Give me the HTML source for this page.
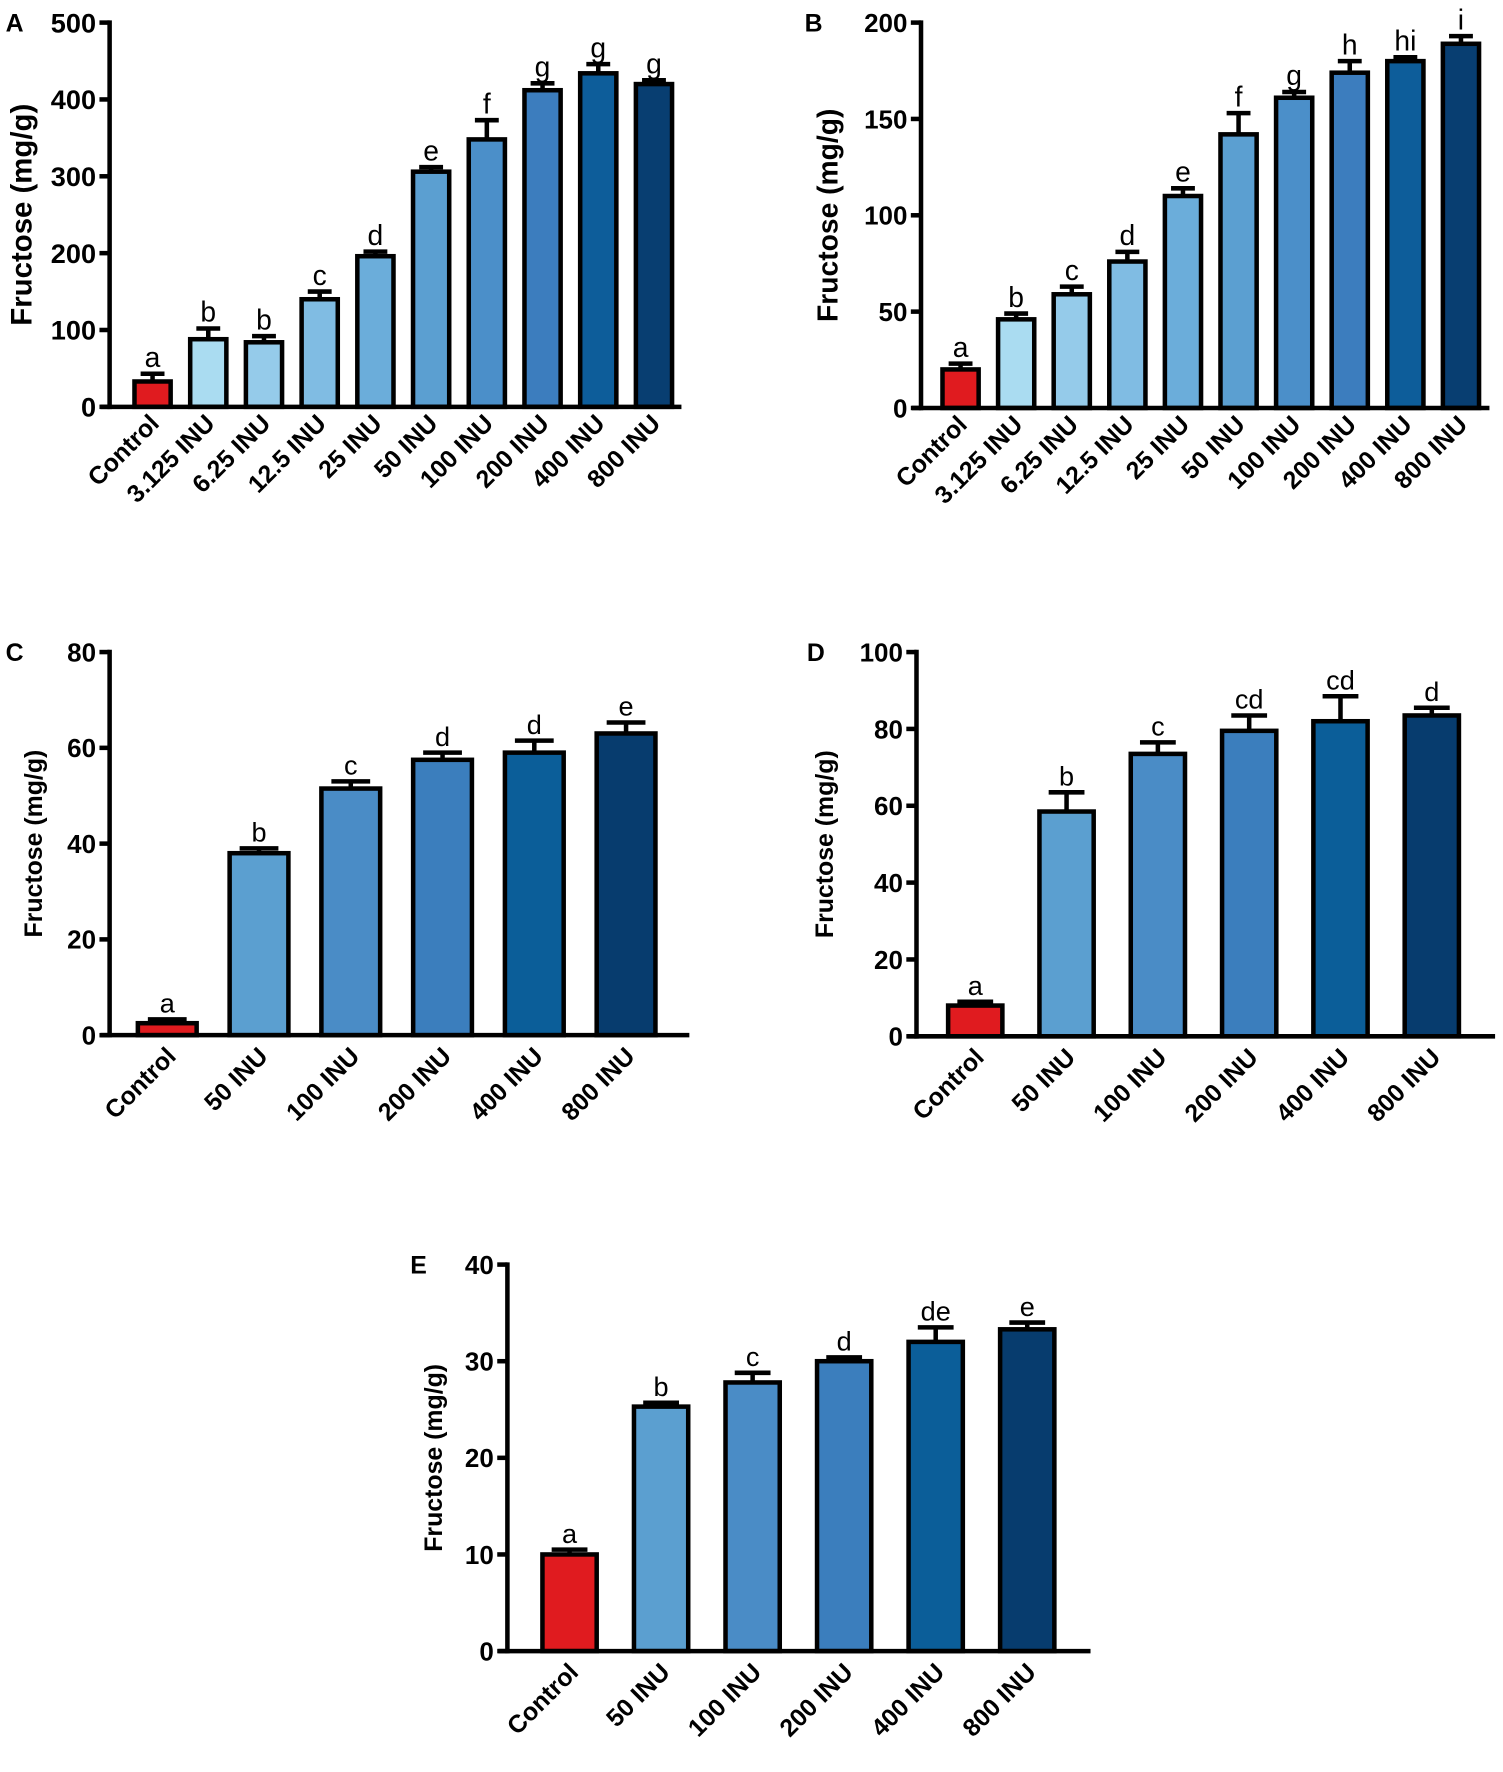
<!DOCTYPE html>
<html><head><meta charset="utf-8"><style>
html,body{margin:0;padding:0;background:#fff}
svg{display:block}
text{font-family:"Liberation Sans",Arial,sans-serif}
</style></head><body>
<svg id="fig" width="1503" height="1772" viewBox="0 0 1330 1568" preserveAspectRatio="none" xmlns="http://www.w3.org/2000/svg"></svg>
<script>
// Panel A
const catsA = ["Control","3.125 INU","6.25 INU","12.5 INU","25 INU","50 INU","100 INU","200 INU","400 INU","800 INU"];
const valsA = [33,88,84,140,196,306,348,412,434,420];
const errA = [10,14,8,10,6,6,25,9,12,5];
const letA = ["a","b","b","c","d","e","f","g","g","g"];
const ticksA = [0,100,200,300,400,500];
// Panel B
const catsB = catsA;
const valsB = [20,46,59,76,110,142,161,174,180,189];
const errB = [3,3,4,5,4,11,3,6,2,4];
const letB = ["a","b","c","d","e","f","g","h","hi","i"];
const ticksB = [0,50,100,150,200];
// Panels C/D/E
const catsCDE = ["Control","50 INU","100 INU","200 INU","400 INU","800 INU"];
const valsC = [2.5,38,51.5,57.5,59,63];
const errC = [0.8,1,1.5,1.5,2.5,2.3];
const letC = ["a","b","c","d","d","e"];
const ticksC = [0,20,40,60,80];
const valsD = [8,58.5,73.5,79.5,82,83.5];
const errD = [1,5,3,4,6.5,2];
const letD = ["a","b","c","cd","cd","d"];
const ticksD = [0,20,40,60,80,100];
const valsE = [10,25.3,27.8,30,32,33.3];
const errE = [0.5,0.4,1,0.4,1.5,0.7];
const letE = ["a","b","c","d","de","e"];
const ticksE = [0,10,20,30,40];

const colsAB = ["#e01b1f","#aadcf1","#95cbea","#80bce3","#6badda","#5b9fd1","#4b8fc9","#3c7dbe","#0d5d9a","#083e71"];
const colsCDE = ["#e01b1f","#5b9fd0","#4a8cc6","#3b7ebd","#0b5e99","#073c6e"];

const NS="http://www.w3.org/2000/svg";
const svg=document.getElementById('fig');
function mk(tag,attrs,parent){const e=document.createElementNS(NS,tag);for(const k in attrs)e.setAttribute(k,attrs[k]);(parent||svg).appendChild(e);return e;}

function panel(p){
  const g=mk('g',{});
  
  
  const ymax=p.ticks[p.ticks.length-1];
  const yS=v=>p.y0-(v/ymax)*(p.y0-p.yTop);
  const xS=i=>p.first+i*p.step;
  const L=mk('text',{x:p.lx,y:p.yTop+8,'font-size':22,'font-weight':'bold'},g);
  L.textContent=p.id;
  
  
  const T=mk('text',{x:0,y:0,'font-size':p.tfs,'font-weight':'bold','text-anchor':'middle',transform:`translate(${p.tx},${(p.y0+p.yTop)/2}) rotate(-90)`},g);
  T.textContent='Fructose (mg/g)';
  
  
  p.vals.forEach((v,i)=>{
    const cx=xS(i), w=p.bw;
    const top=yS(v), et=yS(v+p.err[i]);
    const el=mk('line',{x1:cx,x2:cx,y1:top,y2:et,stroke:'#000','stroke-width':4},g);
    
    
    const ec=mk('line',{x1:cx-w*0.33,x2:cx+w*0.33,y1:et,y2:et,stroke:'#000','stroke-width':4},g);
    
    
    const r=mk('rect',{x:cx-w/2,y:top,width:w,height:p.y0-top,fill:p.cols[i],stroke:'#000','stroke-width':4},g);
    
    
    const lt=mk('text',{x:cx,y:et-6,'font-size':p.lfs,'text-anchor':'middle'},g);
    lt.textContent=p.lets[i];
    
    
    const cl=mk('text',{x:0,y:0,'font-size':p.cfs,'font-weight':'bold','text-anchor':'end',transform:`translate(${cx+p.cdx},${p.y0+p.cdy}) rotate(-45)`},g);
    cl.textContent=p.cats[i];
    
    
  });
  const ya=mk('line',{x1:p.x0,x2:p.x0,y1:p.yTop-2,y2:p.y0+2,stroke:'#000','stroke-width':4},g);
  
  
  const xa=mk('line',{x1:p.x0-8,x2:p.xEnd,y1:p.y0,y2:p.y0,stroke:'#000','stroke-width':4},g);
  
  
  p.ticks.forEach(t=>{
    const y=yS(t);
    const tl=mk('line',{x1:p.x0-9,x2:p.x0,y1:y,y2:y,stroke:'#000','stroke-width':4},g);
    
    
    const tt=mk('text',{x:p.x0-12,y:y+p.yfs*0.36,'font-size':p.yfs,'font-weight':'bold','text-anchor':'end'},g);
    tt.textContent=t;
    
    
  });
}

panel({id:'A',cats:catsA,vals:valsA,err:errA,lets:letA,ticks:ticksA,cols:colsAB,x0:97,xEnd:603,yTop:20,y0:360,first:135,step:49.3,bw:32,lx:5,tx:28,tfs:26,yfs:24,lfs:25,cfs:22,cdx:7,cdy:16});
panel({id:'B',cats:catsB,vals:valsB,err:errB,lets:letB,ticks:ticksB,cols:colsAB,x0:815,xEnd:1318,yTop:20,y0:361,first:850,step:49.2,bw:32,lx:712,tx:741,tfs:25,yfs:23,lfs:25,cfs:22,cdx:7,cdy:16});
panel({id:'C',cats:catsCDE,vals:valsC,err:errC,lets:letC,ticks:ticksC,cols:colsCDE,x0:97,xEnd:610,yTop:577,y0:916,first:148,step:81.2,bw:52,lx:5,tx:37,tfs:22,yfs:23,lfs:24,cfs:22,cdx:9,cdy:20});
panel({id:'D',cats:catsCDE,vals:valsD,err:errD,lets:letD,ticks:ticksD,cols:colsCDE,x0:811,xEnd:1323,yTop:577,y0:917,first:863,step:80.8,bw:48,lx:714,tx:737,tfs:22,yfs:23,lfs:24,cfs:22,cdx:9,cdy:20});
panel({id:'E',cats:catsCDE,vals:valsE,err:errE,lets:letE,ticks:ticksE,cols:colsCDE,x0:449,xEnd:965,yTop:1119,y0:1461,first:504,step:81,bw:48,lx:363,tx:391,tfs:22,yfs:23,lfs:24,cfs:22,cdx:9,cdy:20});
</script>
</body></html>
